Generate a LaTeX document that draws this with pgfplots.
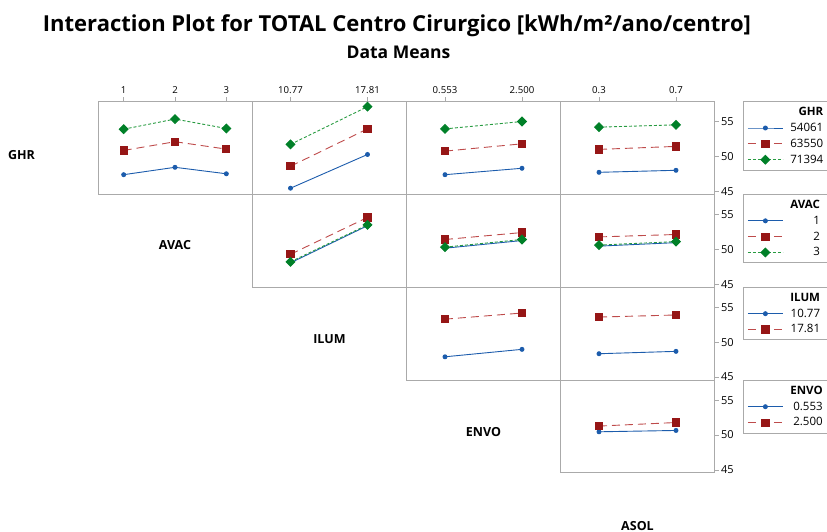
\documentclass[border=0pt]{standalone}
\usepackage{pgfplots}
\pgfplotsset{compat=1.18}
\usepackage{fontspec}
\setmainfont{Open Sans}

\definecolor{lvA}{RGB}{28,92,172}
\definecolor{lvB}{RGB}{150,22,22}
\definecolor{lvBline}{RGB}{190,75,75}
\definecolor{lvC}{RGB}{0,128,40}
\definecolor{lvCline}{RGB}{40,155,65}
\definecolor{frame}{RGB}{170,170,170}

% legend text with a little room on its right
\newcommand\ent[1]{#1\hspace*{4pt}}

\pgfplotsset{
  panel/.style={
    scale only axis, width=154pt, height=92.9pt,
    anchor=north west,
    ymin=44.57, ymax=57.9,
    xtick=\empty, ytick=\empty,
    axis line style={frame, line width=0.9pt},
    tick style={frame, line width=0.8pt},
    major tick length=4pt,
    tick align=outside,
    clip=false,
    /pgf/number format/assume math mode=true,
    legend image code/.code={\draw[mark repeat=2,mark phase=2,##1] plot coordinates {(0pt,0pt) (17.5pt,0pt) (35pt,0pt)};},
  },
  three/.style={xmin=-0.5, xmax=2.5},
  two/.style={xmin=-0.5, xmax=1.5},
  toplab/.style={xtick pos=right, xticklabel pos=right,
     xticklabel style={font=\fontsize{9.6}{11}\selectfont}},
  rightlab/.style={ytick={45,50,55}, ytick pos=right, yticklabel pos=right,
     yticklabel style={font=\fontsize{11}{12}\selectfont, xshift=-1pt}},
  lvA/.style={color=lvA, solid, line width=0.9pt, mark=*, mark size=2pt},
  lvB/.style={color=lvBline, dash pattern=on 8pt off 5pt, line width=0.9pt,
     mark=square*, mark size=3.6pt, mark options={solid, draw=lvB, fill=lvB}},
  lvC/.style={color=lvCline, dash pattern=on 3pt off 2pt, line width=0.9pt,
     mark=square*, mark size=3.1pt, mark options={solid, rotate=45, draw=lvC, fill=lvC}},
  key/.style={
    legend style={at={(1.185,1)}, anchor=north west, draw=frame, line width=0.9pt,
      font=\fontsize{11.5}{13}\selectfont, inner xsep=4pt, inner ysep=3.5pt,
      row sep=2pt, column sep=5pt, nodes={inner sep=2pt}},
    legend cell align=right,
  },
}

\begin{document}
\begin{tikzpicture}
% ---------- row 1: GHR traces ----------
\begin{axis}[panel, three, toplab, xtick={0,1,2}, xticklabels={1,2,3}, at={(98pt,-101.3pt)}]
  \addplot[lvA] coordinates {(0,47.37) (1,48.43) (2,47.50)};
  \addplot[lvB] coordinates {(0,50.85) (1,52.10) (2,51.04)};
  \addplot[lvC] coordinates {(0,53.90) (1,55.35) (2,54.00)};
\end{axis}
\begin{axis}[panel, two, toplab, xtick={0,1}, xticklabels={10.77,17.81}, at={(252pt,-101.3pt)}]
  \addplot[lvA] coordinates {(0,45.43) (1,50.27)};
  \addplot[lvB] coordinates {(0,48.58) (1,53.94)};
  \addplot[lvC] coordinates {(0,51.72) (1,57.13)};
\end{axis}
\begin{axis}[panel, two, toplab, xtick={0,1}, xticklabels={0.553,2.500}, at={(406.5pt,-101.3pt)}]
  \addplot[lvA] coordinates {(0,47.37) (1,48.29)};
  \addplot[lvB] coordinates {(0,50.75) (1,51.80)};
  \addplot[lvC] coordinates {(0,53.94) (1,55.00)};
\end{axis}
\begin{axis}[panel, two, toplab, rightlab, key, xtick={0,1}, xticklabels={0.3,0.7}, at={(560.5pt,-101.3pt)}]
  \addlegendimage{empty legend}\addlegendentry{\ent{\textbf{GHR}}}
  \addplot[lvA] coordinates {(0,47.71) (1,48.00)}; \addlegendentry{\ent{54061}}
  \addplot[lvB] coordinates {(0,51.00) (1,51.43)}; \addlegendentry{\ent{63550}}
  \addplot[lvC] coordinates {(0,54.19) (1,54.52)}; \addlegendentry{\ent{71394}}
\end{axis}
% ---------- row 2: AVAC traces ----------
\begin{axis}[panel, two, at={(252pt,-194.2pt)}]
  \addplot[lvA] coordinates {(0,48.05) (1,53.38)};
  \addplot[lvB] coordinates {(0,49.28) (1,54.57)};
  \addplot[lvC] coordinates {(0,48.20) (1,53.50)};
\end{axis}
\begin{axis}[panel, two, at={(406.5pt,-194.2pt)}]
  \addplot[lvA] coordinates {(0,50.15) (1,51.25)};
  \addplot[lvB] coordinates {(0,51.40) (1,52.40)};
  \addplot[lvC] coordinates {(0,50.30) (1,51.40)};
\end{axis}
\begin{axis}[panel, two, rightlab, key, at={(560.5pt,-194.2pt)}]
  \addlegendimage{empty legend}\addlegendentry{\ent{\textbf{AVAC}}}
  \addplot[lvA] coordinates {(0,50.45) (1,50.95)}; \addlegendentry{\ent{1}}
  \addplot[lvB] coordinates {(0,51.77) (1,52.12)}; \addlegendentry{\ent{2}}
  \addplot[lvC] coordinates {(0,50.60) (1,51.10)}; \addlegendentry{\ent{3}}
\end{axis}
% ---------- row 3: ILUM traces ----------
\begin{axis}[panel, two, at={(406.5pt,-287.1pt)}]
  \addplot[lvA] coordinates {(0,47.90) (1,48.97)};
  \addplot[lvB] coordinates {(0,53.30) (1,54.18)};
\end{axis}
\begin{axis}[panel, two, rightlab, key, at={(560.5pt,-287.1pt)}]
  \addlegendimage{empty legend}\addlegendentry{\ent{\textbf{ILUM}}}
  \addplot[lvA] coordinates {(0,48.34) (1,48.68)}; \addlegendentry{\ent{10.77}}
  \addplot[lvB] coordinates {(0,53.60) (1,53.90)}; \addlegendentry{\ent{17.81}}
\end{axis}
% ---------- row 4: ENVO traces ----------
\begin{axis}[panel, two, rightlab, key, at={(560.5pt,-380pt)}]
  \addlegendimage{empty legend}\addlegendentry{\ent{\textbf{ENVO}}}
  \addplot[lvA] coordinates {(0,50.47) (1,50.66)}; \addlegendentry{\ent{0.553}}
  \addplot[lvB] coordinates {(0,51.29) (1,51.80)}; \addlegendentry{\ent{2.500}}
\end{axis}
% ---------- titles and factor names ----------
\node[anchor=base, font=\bfseries\fontsize{22}{26}\selectfont] at (397pt,-31.7pt)
  {Interaction Plot for TOTAL Centro Cirurgico [kWh/m²/ano/centro]};
\node[anchor=base, font=\bfseries\fontsize{17.5}{20}\selectfont] at (398.5pt,-58.3pt) {Data Means};
\begin{scope}[every node/.style={anchor=base, font=\bfseries\fontsize{12.5}{15}\selectfont}]
  \node at (21.5pt,-159.3pt) {GHR};
  \node at (175pt,-249.3pt) {AVAC};
  \node at (329.5pt,-343pt) {ILUM};
  \node at (483.5pt,-436.5pt) {ENVO};
  \node at (637.5pt,-530pt) {ASOL};
\end{scope}
\pgfresetboundingbox
\path[use as bounding box] (0pt,0pt) rectangle (827pt,-532pt);
\end{tikzpicture}
\end{document}
